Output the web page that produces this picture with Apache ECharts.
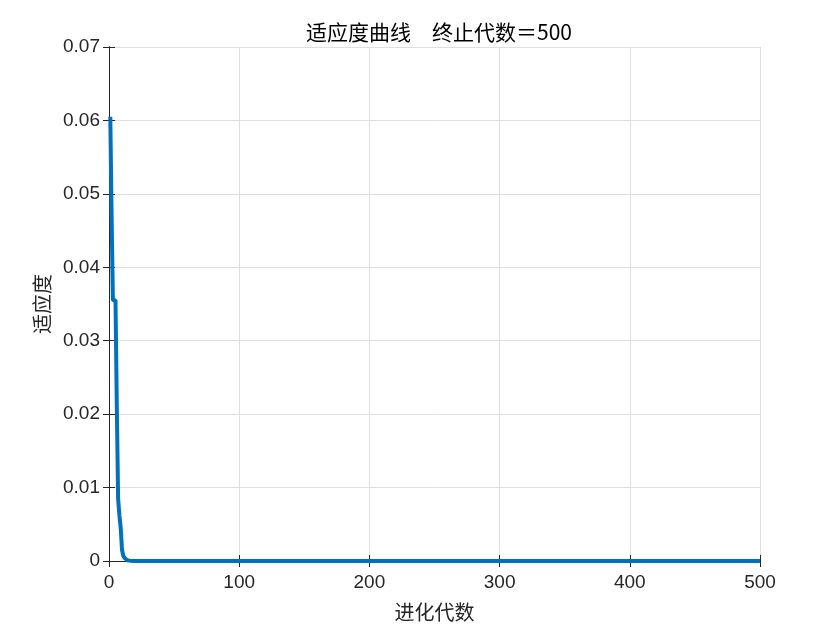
<!DOCTYPE html>
<html><head><meta charset="utf-8">
<script src="https://cdn.jsdelivr.net/npm/echarts@6/dist/echarts.min.js"></script>
<style>html,body{margin:0;padding:0;background:#fff}#c{width:840px;height:630px}</style>
</head><body><div id="c"></div>
<script>
const titleText = '适应度曲线\u3000终止代数＝500';
const xName = '进化代数';
const yName = '适应度';
const generations = [1, 2, 3, 4, 5, 6, 7, 8, 9, 10, 11, 12, 13, 14, 16, 20, 500];
const fitness = [0.0605, 0.0470, 0.0355, 0.0355, 0.0355, 0.0210, 0.0085, 0.0062, 0.0045, 0.0015, 0.0007, 0.0004, 0.0002, 0.0001, 0.00005, 0, 0];
const xMin = 0, xMax = 500, xStep = 100;
const yMin = 0, yMax = 0.07, yStep = 0.01;

const chart = echarts.init(document.getElementById('c'));
const tickFont = 'Liberation Sans, Arial, sans-serif';
const cjk = 'Noto Sans CJK SC';
const axisLine = {show: true, lineStyle: {color: '#262626', width: 1}};
const tick = {show: true, inside: true, length: 6, lineStyle: {color: '#262626'}};
chart.setOption({
  animation: false,
  title: {text: titleText, left: 434, top: 17, textAlign: 'center',
    textStyle: {fontFamily: cjk, fontSize: 21, fontWeight: 'normal', color: '#000'}},
  grid: {left: 109, right: 80, top: 47, bottom: 69},
  xAxis: [
    {type: 'value', min: xMin, max: xMax, interval: xStep,
      name: xName, nameLocation: 'middle', nameGap: 41,
      nameTextStyle: {fontFamily: cjk, fontSize: 20, color: '#262626'},
      axisLine, axisTick: tick,
      axisLabel: {fontFamily: tickFont, fontSize: 19, color: '#262626', margin: 12},
      splitLine: {show: true, lineStyle: {color: '#dfdfdf', width: 1}}},
    {type: 'value', position: 'top', min: xMin, max: xMax, interval: xStep,
      axisLine, axisTick: tick, axisLabel: {show: false}, splitLine: {show: false}}
  ],
  yAxis: [
    {type: 'value', min: yMin, max: yMax, interval: yStep,
      name: yName, nameLocation: 'middle', nameGap: 50, nameRotate: 90,
      nameTextStyle: {fontFamily: cjk, fontSize: 20, color: '#262626'},
      axisLine, axisTick: tick,
      axisLabel: {fontFamily: tickFont, fontSize: 19, color: '#262626', margin: 9,
        formatter: v => v === 0 ? '0' : v.toFixed(2)},
      splitLine: {show: true, lineStyle: {color: '#dfdfdf', width: 1}}},
    {type: 'value', position: 'right', min: yMin, max: yMax, interval: yStep,
      axisLine, axisTick: tick, axisLabel: {show: false}, splitLine: {show: false}}
  ],
  series: [{
    type: 'line', xAxisIndex: 0, yAxisIndex: 0, showSymbol: false,
    data: generations.map((g, i) => [g, fitness[i]]),
    lineStyle: {color: '#0072BD', width: 4}, z: 3
  }]
});
</script></body></html>
